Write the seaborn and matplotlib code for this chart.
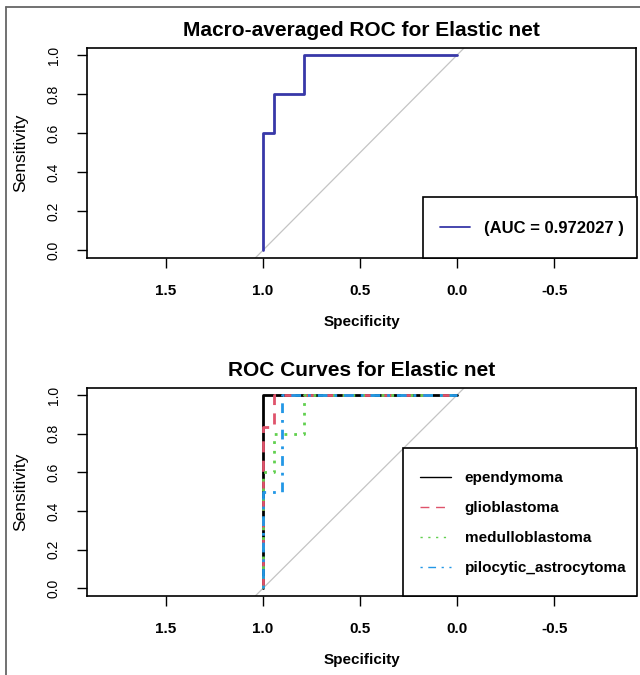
import numpy as np
import pandas as pd
import matplotlib
matplotlib.use("Agg")
import matplotlib.pyplot as plt
import seaborn as sns
from matplotlib.lines import Line2D
from matplotlib.patches import Rectangle

# Macro-averaged ROC (specificity, sensitivity)
macro_spec = [1.0, 1.0, 0.943, 0.943, 0.788, 0.788, 0.0]
macro_sens = [0.0, 0.6, 0.6, 0.8, 0.8, 1.0, 1.0]
macro_auc = 0.972027

# Per-class ROC curves
classes = ["ependymoma", "glioblastoma", "medulloblastoma", "pilocytic_astrocytoma"]
spec_ependymoma = [1.0, 1.0, 0.0]
sens_ependymoma = [0.0, 1.0, 1.0]
spec_glioblastoma = [1.0, 1.0, 0.944, 0.944, 0.0]
sens_glioblastoma = [0.0, 0.833, 0.833, 1.0, 1.0]
spec_medulloblastoma = [1.0, 1.0, 0.943, 0.943, 0.788, 0.788, 0.0]
sens_medulloblastoma = [0.0, 0.6, 0.6, 0.8, 0.8, 1.0, 1.0]
spec_pilocytic = [1.0, 1.0, 0.9, 0.9, 0.0]
sens_pilocytic = [0.0, 0.5, 0.5, 1.0, 1.0]

x_ticks = [1.5, 1.0, 0.5, 0.0, -0.5]
y_ticks = [0.0, 0.2, 0.4, 0.6, 0.8, 1.0]

palette = {"ependymoma": "#000000", "glioblastoma": "#DF536B",
           "medulloblastoma": "#61D04F", "pilocytic_astrocytoma": "#2297E6"}
dash_map = {"ependymoma": "", "glioblastoma": (4, 3),
            "medulloblastoma": (1, 2.5), "pilocytic_astrocytoma": (1, 2.5, 3.5, 2.5)}
macro_color = "#3838A8"

sns.set_style("ticks")
plt.rcParams["font.family"] = ["Liberation Sans", "DejaVu Sans"]
plt.rcParams.update({"text.color": "black", "axes.labelcolor": "black",
                     "xtick.color": "black", "ytick.color": "black"})

# long table for the class curves
frames = []
for name, sp, se in zip(classes,
                        [spec_ependymoma, spec_glioblastoma, spec_medulloblastoma, spec_pilocytic],
                        [sens_ependymoma, sens_glioblastoma, sens_medulloblastoma, sens_pilocytic]):
    frames.append(pd.DataFrame({"specificity": sp, "sensitivity": se, "class": name}))
curves = pd.concat(frames, ignore_index=True)
macro = pd.DataFrame({"specificity": macro_spec, "sensitivity": macro_sens})

W, H = 640, 675
fig = plt.figure(figsize=(6.4, 6.75), dpi=100)
# axes boxes in pixels: left, right, top, bottom
box1 = (87, 636, 48, 258)
box2 = (87, 636, 388, 596)
ax1 = fig.add_axes([box1[0] / W, 1 - box1[3] / H, (box1[1] - box1[0]) / W, (box1[3] - box1[2]) / H])
ax2 = fig.add_axes([box2[0] / W, 1 - box2[3] / H, (box2[1] - box2[0]) / W, (box2[3] - box2[2]) / H])


def px_to_axes(box, x, y):
    return (x - box[0]) / (box[1] - box[0]), (box[3] - y) / (box[3] - box[2])


def style_axes(ax, title):
    ax.axline((1, 0), (0, 1), color="#C4C4C4", lw=0.9, zorder=1)
    ax.set_xlim(1.907, -0.922)
    ax.set_ylim(-0.04, 1.036)
    ax.set_xticks(x_ticks)
    ax.set_xticklabels([f"{v:.1f}" for v in x_ticks], fontsize=11, fontweight="bold")
    ax.set_yticks(y_ticks)
    ax.set_yticklabels([f"{v:.1f}" for v in y_ticks], fontsize=10, rotation=90, va="center")
    ax.tick_params(axis="x", length=7, width=1, pad=12)
    ax.tick_params(axis="y", length=7, width=1, pad=12)
    for s in ax.spines.values():
        s.set_visible(True)
        s.set_color("black")
        s.set_linewidth(1.2)
    ax.set_xlabel("Specificity", fontsize=11, fontweight="bold", labelpad=12)
    ax.set_ylabel("Sensitivity", fontsize=12.5, labelpad=13)
    ax.set_title(title, fontsize=15, fontweight="bold", pad=9)


def legend_box(ax, box, x0, x1, y0, y1):
    (ax0, ay1), (ax1_, ay0) = px_to_axes(box, x0, y0), px_to_axes(box, x1, y1)
    ax.add_patch(Rectangle((ax0, ay0), ax1_ - ax0, ay1 - ay0, transform=ax.transAxes,
                           facecolor="white", edgecolor="black", lw=1.2, zorder=4, clip_on=False))


# top panel: macro-averaged curve
sns.lineplot(data=macro, x="specificity", y="sensitivity", sort=False, estimator=None,
             color=macro_color, lw=2, ax=ax1, zorder=3)
style_axes(ax1, "Macro-averaged ROC for Elastic net")
legend_box(ax1, box1, 423, 637, 197, 258)
h = [Line2D([], [], color=macro_color, lw=1.3)]
leg1 = ax1.legend(h, [f"(AUC = {macro_auc} )"], loc="center left",
                  bbox_to_anchor=px_to_axes(box1, 440, 228), borderaxespad=0, borderpad=0,
                  frameon=False, prop={"size": 12, "weight": "bold"},
                  handlelength=1.8, handletextpad=0.84)
leg1.set_zorder(5)

# bottom panel: per-class curves
sns.lineplot(data=curves, x="specificity", y="sensitivity", hue="class", style="class",
             hue_order=classes, style_order=classes, palette=palette, dashes=dash_map,
             sort=False, estimator=None, lw=2, ax=ax2, legend=False, zorder=3)
style_axes(ax2, "ROC Curves for Elastic net")
legend_box(ax2, box2, 403, 637, 448, 596)
h2 = []
for c in classes:
    ln = Line2D([], [], color=palette[c], lw=1)
    if dash_map[c]:
        ln.set_dashes([d * 1.6 for d in dash_map[c]])
    h2.append(ln)
leg2 = ax2.legend(h2, classes, loc="center left",
                  bbox_to_anchor=px_to_axes(box2, 420, 523), borderaxespad=0, borderpad=0,
                  frameon=False, prop={"size": 11, "weight": "bold"},
                  handlelength=2.0, handletextpad=0.92, labelspacing=1.05)
leg2.set_zorder(5)

# outer frame (left and top edges only)
fig.add_artist(Line2D([5.5 / W, 5.5 / W], [0, 1 - 7 / H], transform=fig.transFigure,
                      color="#666666", lw=1.3))
fig.add_artist(Line2D([5.5 / W, 1], [1 - 7 / H, 1 - 7 / H], transform=fig.transFigure,
                      color="#666666", lw=1.3))

fig.savefig("out.png", dpi=100, facecolor="white")
